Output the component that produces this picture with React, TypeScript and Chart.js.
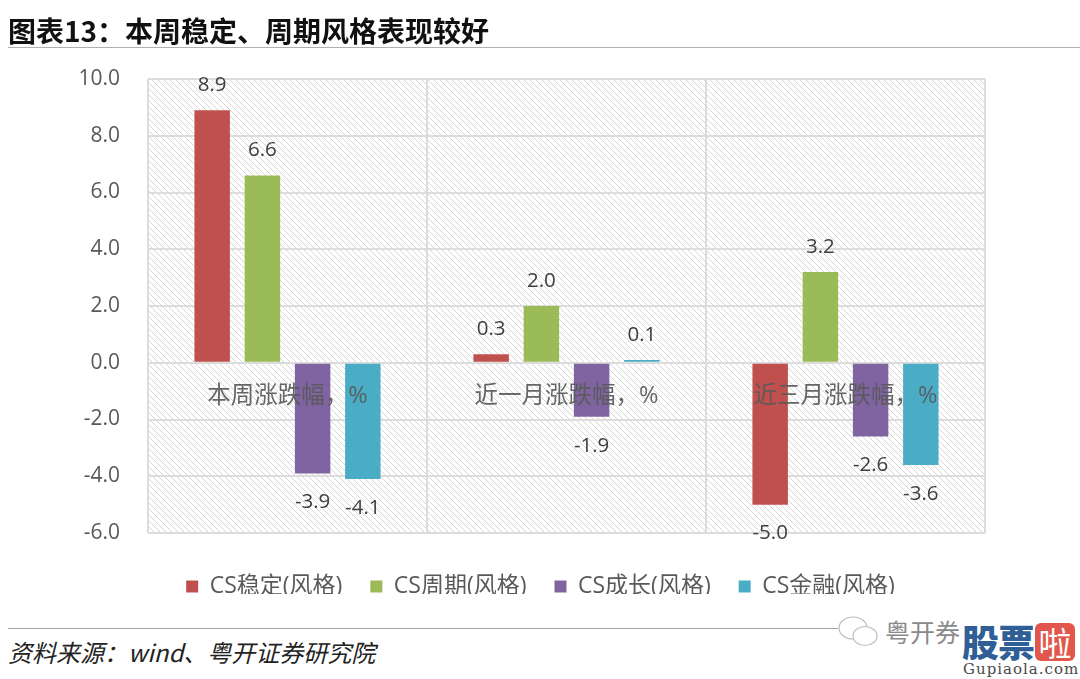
import React, { useEffect, useRef } from "react";
import { Chart, registerables } from "chart.js";

Chart.register(...registerables);

const categories = ["本周涨跌幅，%", "近一月涨跌幅，%", "近三月涨跌幅，%"];
const stable = [8.9, 0.3, -5.0];
const cyclical = [6.6, 2.0, 3.2];
const growth = [-3.9, -1.9, -2.6];
const financial = [-4.1, 0.1, -3.6];
const seriesNames = ["CS稳定(风格)", "CS周期(风格)", "CS成长(风格)", "CS金融(风格)"];
const seriesColors = ["#C0504D", "#9BBB59", "#8064A2", "#4BACC6"];

const FONT = '"Open Sans","Noto Sans CJK SC",sans-serif';
const CJK = '"Noto Sans CJK SC",sans-serif';

function makeHatch(ctx: CanvasRenderingContext2D) {
  const size = 6;
  const c = document.createElement("canvas");
  c.width = size;
  c.height = size;
  const p = c.getContext("2d")!;
  p.strokeStyle = "#d6d6d6";
  p.lineWidth = 1;
  p.beginPath();
  p.moveTo(-1, -1);
  p.lineTo(size + 1, size + 1);
  p.moveTo(-1, size - 1);
  p.lineTo(1, size + 1);
  p.moveTo(size - 1, -1);
  p.lineTo(size + 1, 1);
  p.stroke();
  return ctx.createPattern(c, "repeat")!;
}

const hatchPlugin = {
  id: "hatch",
  beforeDraw(chart: any) {
    const { ctx, chartArea: a } = chart;
    ctx.save();
    ctx.fillStyle = makeHatch(ctx);
    ctx.fillRect(a.left, a.top, a.right - a.left, a.bottom - a.top);
    ctx.restore();
  },
};

const legendShiftPlugin = {
  id: "legendShift",
  afterLayout(chart: any) {
    chart.legend.top += 14;
    chart.legend.bottom += 14;
    chart.legend.left += 48;
    chart.legend.right += 48;
  },
};

const valueLabelPlugin = {
  id: "valueLabels",
  afterDatasetsDraw(chart: any) {
    const { ctx } = chart;
    ctx.save();
    ctx.font = `20.5px ${FONT}`;
    ctx.fillStyle = "#404040";
    ctx.textAlign = "center";
    ctx.textBaseline = "middle";
    chart.data.datasets.forEach((ds: any, i: number) => {
      chart.getDatasetMeta(i).data.forEach((el: any, j: number) => {
        const v = ds.data[j];
        const y = v >= 0 ? el.y - 25 : el.y + 29;
        ctx.fillText(v.toFixed(1), el.x, y);
      });
    });
    ctx.restore();
  },
};

const abs = (s: React.CSSProperties): React.CSSProperties => ({ position: "absolute", whiteSpace: "nowrap", ...s });

export default function App() {
  const ref = useRef<HTMLCanvasElement>(null);
  useEffect(() => {
    document.body.style.margin = "0";
    const chart = new Chart(ref.current!, {
      type: "bar",
      data: {
        labels: categories,
        datasets: [stable, cyclical, growth, financial].map((d, i) => ({
          label: seriesNames[i],
          data: d,
          backgroundColor: seriesColors[i],
          categoryPercentage: 0.72,
          barPercentage: 0.706,
        })),
      },
      options: {
        animation: false,
        responsive: false,
        devicePixelRatio: 1,
        layout: { padding: { top: 79, right: 95, left: 0, bottom: 0 } },
        plugins: {
          title: { display: false },
          tooltip: { enabled: false },
          legend: {
            position: "bottom",
            labels: {
              boxWidth: 12,
              boxHeight: 12,
              padding: 28,
              color: "#595959",
              font: { family: FONT, size: 23 },
            },
          },
        },
        scales: {
          x: {
            position: { y: 0 } as any,
            grid: { color: "#dcdcdc", lineWidth: 2, drawTicks: false },
            border: { display: false },
            ticks: { color: "rgba(89,89,89,0.92)", font: { family: FONT, size: 23.5 }, padding: 19, maxRotation: 0, z: 1 },
          },
          y: {
            min: -6,
            max: 10,
            afterFit: (s: any) => { s.width = 148; },
            grid: { color: "#dcdcdc", lineWidth: 2, drawTicks: false },
            border: { display: false },
            ticks: { stepSize: 2, color: "#595959", padding: 28, font: { family: FONT, size: 21 }, callback: (v: any) => Number(v).toFixed(1) },
          },
        },
      },
      plugins: [hatchPlugin, legendShiftPlugin, valueLabelPlugin],
    } as any);
    return () => chart.destroy();
  }, []);

  return (
    <div style={{ position: "relative", width: 1080, height: 679, overflow: "hidden", background: "#fff", fontFamily: FONT }}>
      <canvas ref={ref} width={1080} height={594} style={{ position: "absolute", left: 0, top: 0, display: "block" }} />
      <div style={abs({ left: 8, top: 10, fontSize: 28, fontWeight: 700, color: "#111", lineHeight: "40px", fontFamily: CJK })}>图表13：本周稳定、周期风格表现较好</div>
      <div style={abs({ left: 8, top: 47, width: 1072, height: 1, background: "#b0b0b0" })} />
      <div style={abs({ left: 8, top: 628, width: 830, height: 1, background: "#a6a6a6" })} />
      <div style={abs({ left: 8, top: 635, fontSize: 24, fontStyle: "italic", color: "#222", lineHeight: "34px", fontFamily: CJK })}>资料来源：wind、粤开证券研究院</div>
      <svg width="46" height="40" style={{ position: "absolute", left: 836, top: 612 }}>
        <ellipse cx="17" cy="16" rx="14" ry="11" fill="#fff" stroke="#bdbdbd" strokeWidth="1.2" />
        <ellipse cx="29" cy="24" rx="12" ry="9.5" fill="#fff" stroke="#bdbdbd" strokeWidth="1.2" />
      </svg>
      <div style={abs({ left: 885, top: 614, fontSize: 25, color: "#8a8a8a", lineHeight: "34px", fontFamily: CJK })}>粤开券</div>
      <div style={abs({ left: 962, top: 621, fontSize: 37, fontWeight: 900, color: "#2f5f96", lineHeight: "40px", letterSpacing: -1, fontFamily: CJK })}>股票</div>
      <div style={abs({ left: 1035, top: 623, width: 40, height: 38, borderRadius: 6, background: "#e2574c", color: "#fff", fontSize: 33, lineHeight: "38px", textAlign: "center", fontFamily: CJK })}>啦</div>
      <div style={abs({ left: 963, top: 660, fontSize: 15, color: "#4a4a4a", letterSpacing: 1, lineHeight: "18px", fontFamily: '"DejaVu Serif",serif' })}>Gupiaola.com</div>
    </div>
  );
}
